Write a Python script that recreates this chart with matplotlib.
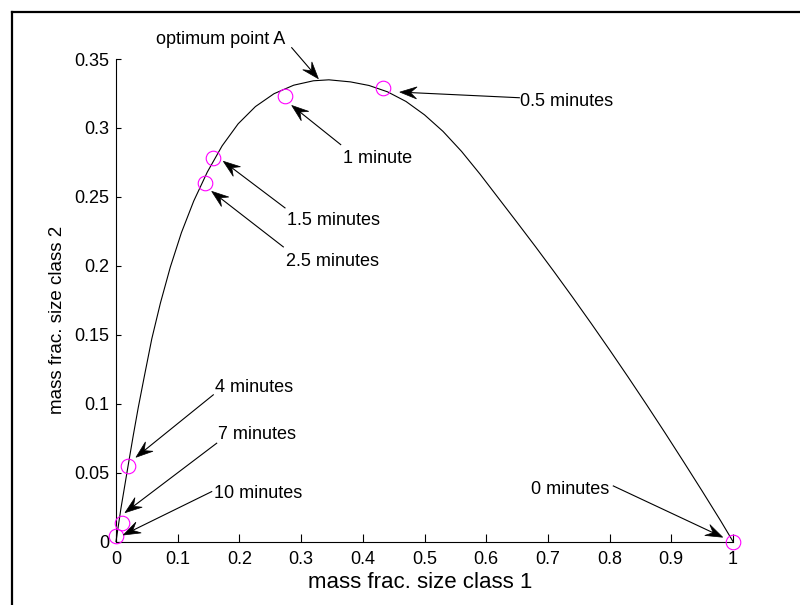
import matplotlib
matplotlib.use("Agg")
import matplotlib.pyplot as plt
from matplotlib.patches import Polygon
from matplotlib.lines import Line2D
import numpy as np

plt.rcParams['font.family'] = ['Liberation Sans', 'DejaVu Sans']

# trajectory of the two mass fractions during grinding
curve_x = [0.0, 0.003, 0.008, 0.014, 0.020, 0.028, 0.036, 0.046, 0.058, 0.072,
           0.088, 0.106, 0.126, 0.148, 0.172, 0.198, 0.226, 0.256, 0.288, 0.320,
           0.345, 0.380, 0.410, 0.440, 0.470, 0.500, 0.530, 0.560, 0.590, 0.620,
           0.650, 0.680, 0.710, 0.740, 0.770, 0.800, 0.830, 0.860, 0.890, 0.920,
           0.950, 0.980, 1.0]
curve_y = [0.0, 0.009, 0.024, 0.040, 0.056, 0.077, 0.097, 0.120, 0.147, 0.173,
           0.199, 0.224, 0.247, 0.268, 0.287, 0.303, 0.3155, 0.3248, 0.331, 0.3342,
           0.3349, 0.3334, 0.3308, 0.3262, 0.3192, 0.3095, 0.2975, 0.2830, 0.2665, 0.2490,
           0.2315, 0.2138, 0.1957, 0.1772, 0.1583, 0.1390, 0.1193, 0.0992, 0.0787, 0.0578,
           0.0366, 0.0150, 0.0]

# sampled compositions
sample_labels = ["0 minutes", "0.5 minutes", "1 minute", "1.5 minutes",
                 "2.5 minutes", "4 minutes", "7 minutes", "10 minutes"]
sample_x = [1.0, 0.432, 0.274, 0.157, 0.145, 0.020, 0.009, 0.0]
sample_y = [0.0, 0.329, 0.323, 0.278, 0.2597, 0.0547, 0.0133, 0.004]

x_ticks = [0, 0.1, 0.2, 0.3, 0.4, 0.5, 0.6, 0.7, 0.8, 0.9, 1.0]
x_tick_labels = ["0", "0.1", "0.2", "0.3", "0.4", "0.5", "0.6", "0.7", "0.8", "0.9", "1"]
y_ticks = [0, 0.05, 0.1, 0.15, 0.2, 0.25, 0.3, 0.35]
y_tick_labels = ["0", "0.05", "0.1", "0.15", "0.2", "0.25", "0.3", "0.35"]

# text arrows: label, text anchor, arrow tail, arrow tip, horizontal alignment
callouts = [
    ("optimum point A", (0.0648, 0.3642), (0.2848, 0.3582), (0.328, 0.3357), "left"),
    ("0.5 minutes", (0.6548, 0.3194), (0.6537, 0.3219), (0.460, 0.326), "left"),
    ("1 minute", (0.3684, 0.2776), (0.3642, 0.2879), (0.2848, 0.3163), "left"),
    ("1.5 minutes", (0.2767, 0.2328), (0.2739, 0.2420), (0.1739, 0.2758), "left"),
    ("2.5 minutes", (0.2755, 0.2032), (0.2712, 0.2137), (0.1551, 0.2540), "left"),
    ("4 minutes", (0.1605, 0.1120), (0.1577, 0.1064), (0.0324, 0.0611), "left"),
    ("7 minutes", (0.1658, 0.0773), (0.1632, 0.0713), (0.0146, 0.0209), "left"),
    ("10 minutes", (0.1588, 0.0350), (0.1551, 0.0362), (0.0118, 0.0047), "left"),
    ("0 minutes", (0.7995, 0.0379), (0.8060, 0.0403), (0.9833, 0.0031), "right"),
]

W, H = 800, 605
fig = plt.figure(figsize=(W / 100, H / 100), dpi=100)
ax = fig.add_axes([116 / W, 63.5 / H, 617 / W, 482.5 / H])

ax.plot(curve_x, curve_y, color="black", lw=0.8, clip_on=False, zorder=2)
ax.plot(sample_x, sample_y, linestyle="none", marker="o", markersize=10.5,
        markerfacecolor="none", markeredgecolor="#ff00ff", markeredgewidth=0.8,
        clip_on=False, zorder=3)

ax.set_xlim(0, 1)
ax.set_ylim(0, 0.35)
ax.set_xticks(x_ticks)
ax.set_xticklabels(x_tick_labels)
ax.set_yticks(y_ticks)
ax.set_yticklabels(y_tick_labels)
ax.tick_params(axis="x", direction="in", length=5.5, width=0.8, pad=6.5, labelsize=13)
ax.tick_params(axis="y", direction="in", length=3.6, width=0.8, pad=4.8, labelsize=13)
for side in ("top", "right"):
    ax.spines[side].set_visible(False)
for side in ("left", "bottom"):
    ax.spines[side].set_linewidth(0.8)

ax.set_xlabel("mass frac. size class 1", fontsize=16)
ax.xaxis.set_label_coords(0.4935, -0.064)
ax.set_ylabel("mass frac. size class 2", fontsize=13.5)
ax.yaxis.set_label_coords(-0.081, 0.459)

# arrows with notched heads, built in pixel space then mapped back to data
to_px = ax.transData
to_data = ax.transData.inverted()
head_len, head_w, notch = 17.0, 12.0, 0.62
for text, txy, tail, tip, ha in callouts:
    ax.text(txy[0], txy[1], text, ha=ha, va="center", fontsize=13, clip_on=False)
    p_tail = np.array(to_px.transform(tail))
    p_tip = np.array(to_px.transform(tip))
    u = p_tip - p_tail
    u /= np.hypot(*u)
    n = np.array([-u[1], u[0]])
    back = p_tip - head_len * u
    pts = np.array([p_tip,
                    back + 0.5 * head_w * n,
                    p_tip - notch * head_len * u,
                    back - 0.5 * head_w * n])
    base = p_tip - notch * head_len * u
    seg = to_data.transform(np.array([p_tail, base]))
    ax.add_line(Line2D(seg[:, 0], seg[:, 1], color="black", lw=0.8, clip_on=False))
    ax.add_patch(Polygon(to_data.transform(pts), closed=True, facecolor="black",
                         edgecolor="black", lw=0.5, clip_on=False, zorder=4))

# frame lines along the top and left edges of the figure
fig.add_artist(Line2D([12 / W, 1.0], [1 - 12 / H, 1 - 12 / H],
                      transform=fig.transFigure, color="black", lw=1.6))
fig.add_artist(Line2D([12 / W, 12 / W], [0.0, 1 - 12 / H],
                      transform=fig.transFigure, color="black", lw=1.6))

fig.savefig("out.png", dpi=100)
